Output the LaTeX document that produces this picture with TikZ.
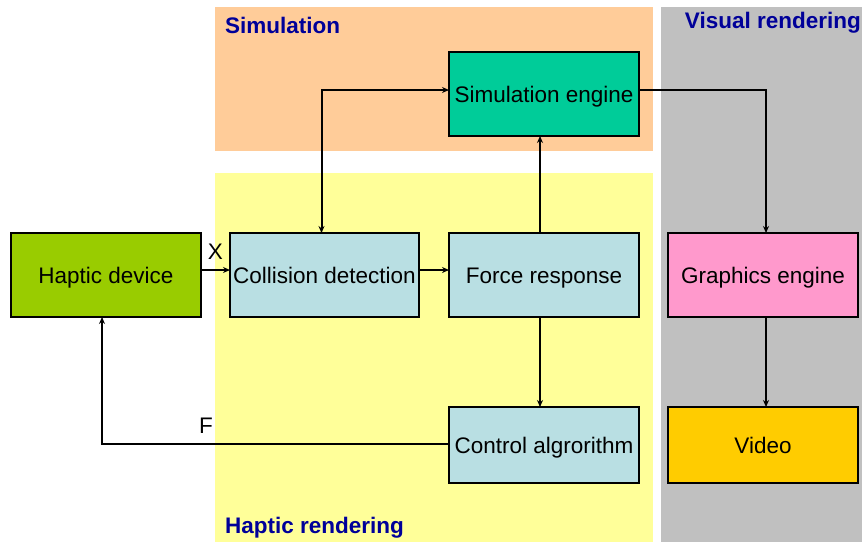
\documentclass[tikz,border=0pt]{standalone}
\usepackage{fontspec}
\setmainfont{Liberation Sans}
\usepackage{tikz}
\usetikzlibrary{positioning,arrows.meta,backgrounds}

\definecolor{simband}{HTML}{FFCC99}
\definecolor{hapband}{HTML}{FFFF99}
\definecolor{visband}{HTML}{C0C0C0}
\definecolor{titleblue}{HTML}{000099}
\definecolor{devgreen}{HTML}{99CC00}
\definecolor{hapblue}{HTML}{B9DFE3}
\definecolor{simgreen}{HTML}{00CC99}
\definecolor{gfxpink}{HTML}{FF99CC}
\definecolor{vidgold}{HTML}{FFCC00}

\begin{document}
\begin{tikzpicture}[
    x=1pt, y=-1pt,
    font=\fontsize{22.5}{27}\selectfont,
    >={Stealth[length=7pt,width=6pt]},
    box/.style={draw, line width=2.2pt, minimum width=190pt, minimum height=84pt,
        inner sep=2pt, outer sep=0pt, text height=16pt, text depth=0pt},
    device/.style={box, fill=devgreen},
    haptic/.style={box, fill=hapblue},
    engine/.style={box, fill=simgreen},
    visual/.style={box, fill=gfxpink},
    band/.style={draw=none},
    title/.style={font=\fontsize{22.5}{27}\selectfont\bfseries, text=titleblue, inner sep=0pt},
    arrow/.style={->, line width=2pt},
    lbl/.style={inner sep=0pt}
]
\useasboundingbox (0,0) rectangle (862,542);

% Background bands
\fill[band, simband] (215,7) rectangle (653,151);
\fill[band, hapband] (215,173) rectangle (653,542);
\fill[band, visband] (661,7) rectangle (862,542);

\node[title, anchor=base west] (simtitle) at (225,33) {Simulation};
\node[title, anchor=base east] (vistitle) at (861,28) {Visual rendering};
\node[title, anchor=base west] (haptitle) at (225,533) {Haptic rendering};

% Middle row
\node[device] (dev) at (106,275) {Haptic device};
\node[haptic, right=29pt of dev, minimum width=189pt] (coll) {Collision detection};
\node[haptic, right=30pt of coll] (force) {Force response};
\node[visual, right=29pt of force] (gfx) {Graphics engine};

% Top and bottom rows
\node[engine, above=97pt of force] (sim) {Simulation engine};
\node[haptic, below=90pt of force, minimum height=76pt] (ctrl) {Control algrorithm};
\node[box, fill=vidgold, below=90pt of gfx, minimum height=76pt] (vid) {Video};

\draw[arrow] ([yshift=5pt]dev.east) -- ([yshift=5pt]coll.west)
    node[lbl, midway, above=10pt] {X};
\draw[arrow] ([yshift=5pt]coll.east) -- ([yshift=5pt]force.west);
\draw[arrow] ([xshift=-4pt]force.north) -- ([xshift=-4pt]sim.south);
\draw[arrow, <->] ([xshift=-3pt]coll.north) |- ([yshift=4pt]sim.west);
\draw[arrow] ([yshift=4pt]sim.east) -| ([xshift=3pt]gfx.north);
\draw[arrow] ([xshift=3pt]gfx.south) -- ([xshift=3pt]vid.north);
\draw[arrow] ([xshift=-4pt]force.south) -- ([xshift=-4pt]ctrl.north);
\draw[arrow] ([yshift=1pt]ctrl.west) -| ([xshift=-4pt]dev.south)
    node[lbl, pos=0.35, above=10pt] {F};
\end{tikzpicture}
\end{document}
